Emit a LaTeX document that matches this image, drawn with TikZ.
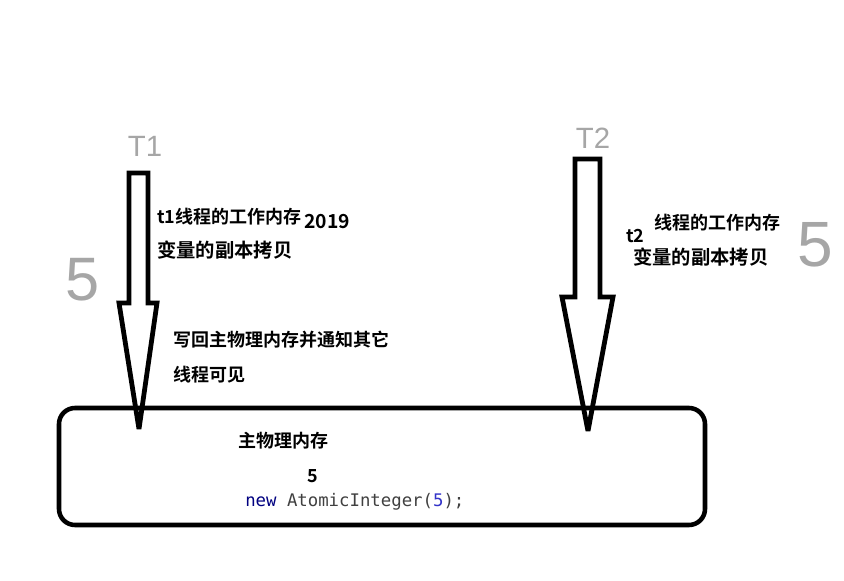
\documentclass[tikz,border=0pt]{standalone}
\usepackage{fontspec}
\newfontfamily\cjk{Noto Sans CJK SC Bold}
\newfontfamily\codefont{DejaVu Sans Mono}
\newfontfamily\handfont{Liberation Sans}
\definecolor{codenew}{RGB}{0,0,128}
\definecolor{codenum}{RGB}{50,50,200}
\tikzset{
  arrowline/.style={line width=3.6pt, line join=miter, miter limit=4},
  membox/.style={draw, line width=3.4pt, rounded corners=12pt,
    minimum width=484.5pt, minimum height=87.75pt},
  txt/.style={anchor=west, inner sep=0pt, font=\cjk\fontsize{13.5}{16}\selectfont},
  txtwide/.style={txt, font=\cjk\fontsize{14.5}{17}\selectfont},
  hand/.style={inner sep=0pt, text=black!35}
}
\begin{document}
\begin{tikzpicture}[x=0.75pt, y=-0.75pt]
  \useasboundingbox (0,0) rectangle (844,581);

  % main memory
  \node[membox] (mem) at (382,466.5) {};

  % thread arrows
  \coordinate (t1tip) at (139,429);
  \coordinate (t2tip) at (588,431);
  \draw[arrowline] (129,173) -- (129,303) -- (119,303) -- (t1tip)
    -- (157,303) -- (148,303) -- (148,173) -- cycle;
  \draw[arrowline] (575,159) -- (575,297) -- (562,297) -- (t2tip)
    -- (613,297) -- (600,297) -- (600,159) -- cycle;

  % handwriting
  \node[hand, font=\handfont\fontsize{22}{22}\selectfont] (T1) at (145,146) {T1};
  \node[hand, font=\handfont\fontsize{22}{22}\selectfont] (T2) at (593,138) {T2};
  \node[hand, font=\handfont\fontsize{48}{48}\selectfont] (fiveright) at (815,245) {5};
  \node[hand, font=\handfont\fontsize{46}{46}\selectfont] (fiveleft) at (83,280) {5};

  % thread 1
  \node[txt] (t1work) at (157,217) {t1线程的工作内存};
  \node[txtwide] (year) at (304,222) {2019};
  \node[txtwide] (t1copy) at (157,250) {变量的副本拷贝};
  \node[txt] (writeback) at (173,340) {写回主物理内存并通知其它};
  \node[txt] (visible) at (173,375) {线程可见};

  % thread 2
  \node[txt] (t2name) at (626,236) {t2};
  \node[txt] (t2work) at (654,223) {线程的工作内存};
  \node[txtwide] (t2copy) at (633,257) {变量的副本拷贝};

  % inside main memory
  \node[txt] (memname) at (238,441) {主物理内存};
  \node[txt, anchor=center] (value) at (313,476) {5};
  \node[anchor=west, inner sep=0pt, text=black!75,
    font=\codefont\fontsize{13}{15}\selectfont] (code) at (245,502)
    {\textcolor{codenew}{new} AtomicInteger(\textcolor{codenum}{5});};
\end{tikzpicture}
\end{document}
